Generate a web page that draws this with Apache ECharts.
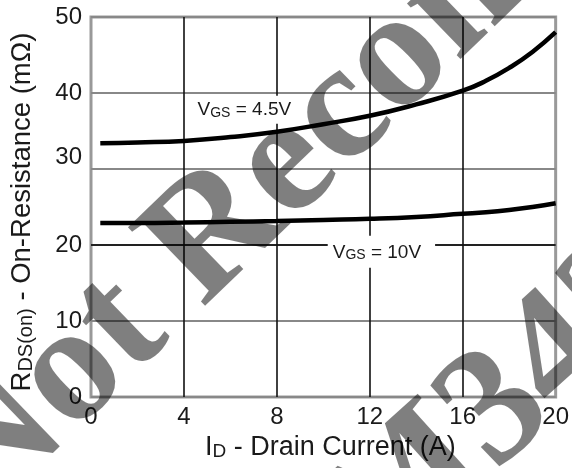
<!DOCTYPE html>
<html><head><meta charset="utf-8">
<script src="https://cdn.jsdelivr.net/npm/echarts@6/dist/echarts.min.js"></script>
<style>html,body{margin:0;padding:0;background:#fff}#c{width:572px;height:468px}</style>
</head><body><div id="c"></div>
<script>
// Data
const xTicks = [0, 4, 8, 12, 16, 20];
const yTicks = [0, 10, 20, 30, 40, 50];
const currentA = [0.4, 2, 4, 6, 8, 10, 12, 14, 16, 17, 18, 19, 20];
const rds45 = [33.4, 33.5, 33.7, 34.2, 34.9, 35.9, 37.0, 38.5, 40.3, 41.6, 43.3, 45.4, 48.0];
const rds10 = [22.9, 22.9, 22.95, 23.05, 23.15, 23.3, 23.45, 23.7, 24.1, 24.3, 24.6, 25.0, 25.5];
const label45 = { x: 6.6, y: 37.8, main: 'V', sub: 'GS', rest: ' = 4.5V' };
const label10 = { x: 12.5, y: 19.1, main: 'V', sub: 'GS', rest: ' = 10V' };
const watermark1 = 'Not Recommended for New Design';
const watermark2 = 'M343';

const F = '"Liberation Sans", Arial, Helvetica, sans-serif';
const txt = '#1a1a1a';
const chart = echarts.init(document.getElementById('c'));

function pts(xs, ys) { return xs.map((x, i) => [x, ys[i]]); }
function curveLabel(l, pad) {
  return {
    symbol: 'rect', symbolSize: 1,
    itemStyle: { color: 'rgba(0,0,0,0)' },
    data: [{ coord: [l.x, l.y] }],
    label: {
      show: true, position: 'inside',
      formatter: '{v|' + l.main + '}{s|' + l.sub + '}{v|' + l.rest + '}',
      backgroundColor: '#fff', padding: pad,
      rich: {
        v: { fontFamily: F, fontSize: 19, color: txt, verticalAlign: 'bottom' },
        s: { fontFamily: F, fontSize: 14, color: txt, verticalAlign: 'bottom' }
      }
    }
  };
}

chart.setOption({
  animation: false,
  backgroundColor: '#fff',
  grid: { left: 89, right: 9, top: 17, bottom: 71, show: true, borderColor: '#999', borderWidth: 3, backgroundColor: 'transparent' },
  xAxis: {
    type: 'value', min: xTicks[0], max: xTicks[xTicks.length - 1], interval: 4,
    axisLine: { show: false }, axisTick: { show: false },
    axisLabel: { fontFamily: F, fontSize: 24, color: txt, margin: 8 },
    splitLine: { show: true, showMinLine: false, showMaxLine: false, lineStyle: { color: '#111', width: 1.6 } },
    name: '{a|I}{b|D}{a| - Drain Current (A)}',
    nameLocation: 'middle', nameGap: 35,
    nameTextStyle: {
      padding: [0, 0, 0, 14],
      rich: {
        a: { fontFamily: F, fontSize: 27, color: txt, verticalAlign: 'bottom' },
        b: { fontFamily: F, fontSize: 19, color: txt, verticalAlign: 'bottom' }
      }
    }
  },
  yAxis: {
    type: 'value', min: yTicks[0], max: yTicks[yTicks.length - 1], interval: 10,
    axisLine: { show: false }, axisTick: { show: false },
    axisLabel: {
      fontFamily: F, fontSize: 24, color: txt, margin: 9,
      formatter: v => v === 30 ? '{u|30}' : String(v),
      rich: { u: { fontFamily: F, fontSize: 24, color: txt, padding: [0, 0, 24, 0] } }
    },
    splitLine: { show: true, lineStyle: { color: ['#888', '#888', '#222', '#888', '#888', '#888'], width: 2 } },
    name: '{a|R}{b|DS(on)}{a| - On-Resistance (mΩ)}',
    nameLocation: 'middle', nameRotate: 90, nameGap: 55,
    nameTextStyle: {
      padding: [0, 10, 0, 0],
      rich: {
        a: { fontFamily: F, fontSize: 27.5, color: txt, verticalAlign: 'bottom' },
        b: { fontFamily: F, fontSize: 20, color: txt, verticalAlign: 'bottom' }
      }
    }
  },
  series: [
    {
      type: 'line', data: pts(currentA, rds45), smooth: true, symbol: 'none',
      lineStyle: { color: '#000', width: 4.5 }, z: 3,
      markPoint: curveLabel(label45, [5, 6, 4, 6])
    },
    {
      type: 'line', data: pts(currentA, rds10), smooth: true, symbol: 'none',
      lineStyle: { color: '#000', width: 4.5 }, z: 3,
      markPoint: curveLabel(label10, [7, 14, 6, 5])
    }
  ],
  graphic: [
    {
      type: 'text', x: -46, y: 488, rotation: 44 * Math.PI / 180, z: 100, silent: true,
      style: { text: watermark1, font: 'bold 168px "Liberation Serif", serif', fill: 'rgba(0,0,0,0.5)', textAlign: 'left', align: 'left', textVerticalAlign: 'middle', verticalAlign: 'middle' }
    },
    {
      type: 'text', x: 348, y: 546, rotation: 42 * Math.PI / 180, z: 100, silent: true,
      style: { text: watermark2, font: 'bold 168px "Liberation Serif", serif', fill: 'rgba(0,0,0,0.5)', textAlign: 'left', align: 'left', textVerticalAlign: 'middle', verticalAlign: 'middle' }
    }
  ]
});
</script></body></html>
